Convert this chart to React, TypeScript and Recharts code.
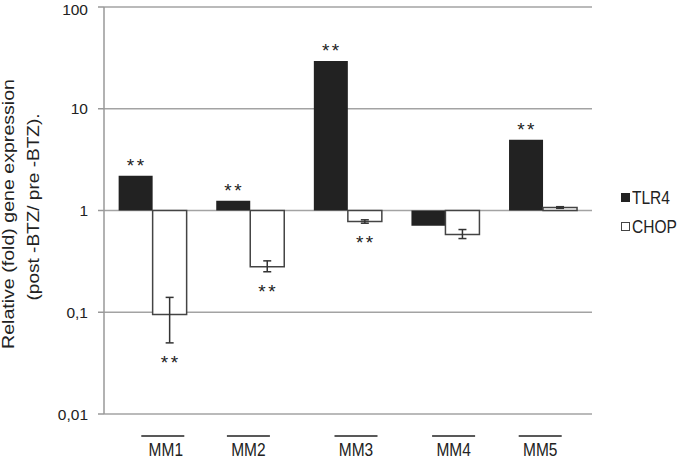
import React from "react";
import {
  BarChart,
  Bar,
  XAxis,
  YAxis,
  CartesianGrid,
  ErrorBar,
  LabelList,
} from "recharts";

// Fold change post-BTZ / pre-BTZ.
const categories = ["MM1", "MM2", "MM3", "MM4", "MM5"];
const tlr4 = [2.2, 1.25, 29.5, 0.71, 4.95];
const chop = [0.095, 0.28, 0.78, 0.58, 1.07];
const chopLow = [0.05, 0.25, 0.75, 0.53, 1.05];
const chopHigh = [0.14, 0.32, 0.81, 0.65, 1.09];
const tlr4Sig = [true, true, true, false, true];
const chopSig = [true, true, true, false, false];
const yTicks = [0.01, 0.1, 1, 10, 100];

const FONT = '"Liberation Sans", Arial, sans-serif';
const INK = "#222222";
const GRID = "#a3a3a3";

// bars grow from 1 (the log baseline), so use ranged values [1, v]
const data = categories.map((name, i) => ({
  name,
  tlr4: [1, tlr4[i]],
  chop: [1, chop[i]],
  chopErr: [chop[i] - chopLow[i], chopHigh[i] - chop[i]],
}));

// small per-label shift, the source figure has its labels a bit off-centre
const tickNudge = [10, -2, 8, 8, -3];

function XTick(props: any) {
  const { x, y, payload, index } = props;
  const cx = x + (tickNudge[index] ?? 0);
  const ty = y + 42;
  return (
    <g>
      <line x1={cx - 21.5} x2={cx + 21.5} y1={y + 22} y2={y + 22} stroke={INK} strokeWidth={1.5} />
      <text
        x={cx + (index === 0 ? 3 : 0)}
        y={ty}
        textAnchor="middle"
        fontSize={15.5}
        fontFamily={FONT}
        fill={INK}
        transform={`translate(0 ${ty}) scale(1 1.15) translate(0 ${-ty})`}
      >
        {payload.value}
      </text>
    </g>
  );
}

function Stars({ cx, cy }: { cx: number; cy: number }) {
  // cy is the visual centre of the asterisks
  return (
    <text
      x={cx + 1}
      y={cy + 11}
      textAnchor="middle"
      fontSize={19}
      letterSpacing={2.5}
      fontFamily={FONT}
      fill={INK}
    >
      **
    </text>
  );
}

function tlrStars(props: any) {
  const i = props.index;
  if (!tlr4Sig[i]) return null;
  const vb = props.viewBox ?? props;
  const top = Math.min(vb.y, vb.y + vb.height);
  return <Stars cx={vb.x + vb.width / 2} cy={top - 15} />;
}

function chopStars(props: any) {
  const i = props.index;
  if (!chopSig[i]) return null;
  const vb = props.viewBox ?? props;
  const bottom = Math.max(vb.y, vb.y + vb.height);
  // pixels per decade, taken from the bar itself
  const k = Math.abs(vb.height) / Math.abs(Math.log10(chop[i]));
  const errBottom = bottom + k * (Math.log10(chop[i]) - Math.log10(chopLow[i]));
  return <Stars cx={vb.x + vb.width / 2} cy={errBottom + 15} />;
}

function YTitle() {
  return (
    <g fontFamily={FONT} fontSize={16} fill={INK}>
      <text
        x={14}
        y={214}
        transform="rotate(-90 14 214)"
        textAnchor="middle"
        textLength={270}
        lengthAdjust="spacingAndGlyphs"
      >
        Relative (fold) gene expression
      </text>
      <text
        x={39}
        y={207}
        transform="rotate(-90 39 207)"
        textAnchor="middle"
        textLength={187}
        lengthAdjust="spacingAndGlyphs"
      >
        (post -BTZ/ pre -BTZ).
      </text>
    </g>
  );
}

function LegendBox() {
  const items = [
    { name: "TLR4", fill: INK, stroke: INK },
    { name: "CHOP", fill: "#fff", stroke: "#444" },
  ];
  return (
    <div style={{ position: "absolute", left: 621, top: 183, fontFamily: FONT, fontSize: 15.5, color: INK }}>
      {items.map((it) => (
        <div key={it.name} style={{ display: "flex", alignItems: "center", height: 29 }}>
          <span
            style={{
              display: "inline-block",
              width: 7,
              height: 7,
              background: it.fill,
              border: `1px solid ${it.stroke}`,
              marginRight: 2,
            }}
          />
          <span style={{ display: "inline-block", transform: "scaleY(1.15)" }}>{it.name}</span>
        </div>
      ))}
    </div>
  );
}

export default function App() {
  return (
    <div style={{ position: "absolute", left: 0, top: 0, width: 685, height: 463, background: "#fff" }}>
      <BarChart
        width={685}
        height={463}
        data={data}
        margin={{ top: 7, right: 93, bottom: 0, left: 0 }}
        barCategoryGap="15%"
        barGap={0}
      >
        <CartesianGrid vertical={false} stroke={GRID} strokeWidth={1.5} />
        <XAxis
          dataKey="name"
          height={49}
          axisLine={false}
          tickLine={false}
          tickSize={0}
          tickMargin={0}
          tick={<XTick />}
          interval={0}
        />
        <YAxis
          width={104}
          scale="log"
          domain={[0.01, 100]}
          ticks={yTicks}
          allowDataOverflow
          tickFormatter={(v: number) => String(v).replace(".", ",")}
          axisLine={{ stroke: "#999", strokeWidth: 1.5 }}
          tickLine={{ stroke: "#999", strokeWidth: 1.5 }}
          tickSize={6}
          tickMargin={10}
          tick={{ fontSize: 15.5, fontFamily: FONT, fill: INK }}
          label={{ content: () => <YTitle /> }}
        />
        <Bar dataKey="tlr4" name="TLR4" fill={INK} isAnimationActive={false}>
          <LabelList dataKey="name" content={tlrStars} />
        </Bar>
        <Bar dataKey="chop" name="CHOP" fill="#fff" stroke="#444" strokeWidth={1.5} isAnimationActive={false}>
          <ErrorBar dataKey="chopErr" width={4} stroke="#333" strokeWidth={1.5} />
          <LabelList dataKey="name" content={chopStars} />
        </Bar>
      </BarChart>
      <LegendBox />
    </div>
  );
}
